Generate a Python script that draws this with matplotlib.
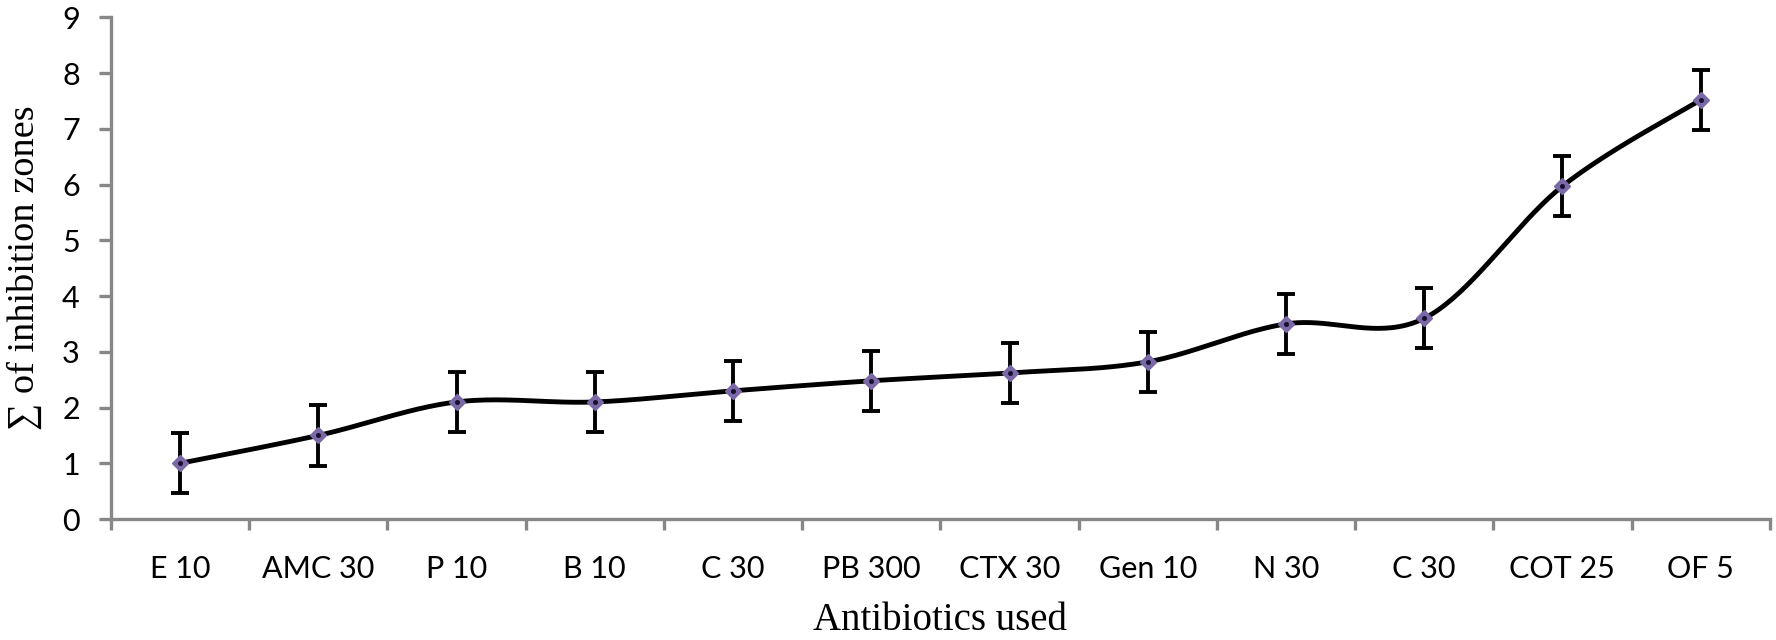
import numpy as np
import matplotlib
matplotlib.use("Agg")
import matplotlib.pyplot as plt
from matplotlib.ticker import FixedLocator

categories = ["E 10", "AMC 30", "P 10", "B 10", "C 30", "PB 300", "CTX 30",
              "Gen 10", "N 30", "C 30", "COT 25", "OF 5"]
values = [1.0, 1.5, 2.1, 2.1, 2.3, 2.48, 2.62, 2.82, 3.5, 3.6, 5.97, 7.52]
errors = [0.54, 0.54, 0.54, 0.54, 0.54, 0.54, 0.54, 0.54, 0.54, 0.54, 0.54, 0.54]
y_ticks = [0, 1, 2, 3, 4, 5, 6, 7, 8, 9]


def smooth_curve(xs, ys, n=40):
    # Catmull-Rom style Bezier smoothing (like spreadsheet "smoothed line")
    pts = np.column_stack([xs, ys]).astype(float)
    ext = np.vstack([pts[0], pts, pts[-1]])
    out = []
    t = np.linspace(0, 1, n)[:, None]
    for i in range(len(pts) - 1):
        p0, p1, p2, p3 = ext[i], ext[i + 1], ext[i + 2], ext[i + 3]
        c1 = p1 + (p2 - p0) / 6.0
        c2 = p2 - (p3 - p1) / 6.0
        seg = ((1 - t) ** 3) * p1 + 3 * ((1 - t) ** 2) * t * c1 + 3 * (1 - t) * t ** 2 * c2 + t ** 3 * p2
        out.append(seg if i == 0 else seg[1:])
    seg = np.vstack(out)
    return seg[:, 0], seg[:, 1]


fig = plt.figure(figsize=(17.76, 6.4), dpi=100)
ax = fig.add_axes([0.0625, 0.189, 0.934, 0.784])

x = np.arange(len(categories))
sx, sy = smooth_curve(x, values)
ax.plot(sx, sy, color="black", lw=3.5, solid_capstyle="round", zorder=2)
ax.errorbar(x, values, yerr=errors, fmt="none", ecolor="black", elinewidth=2.8,
            capsize=6.5, capthick=2.8, zorder=3)
ax.plot(x, values, linestyle="none", marker="D", markersize=8.5,
        markerfacecolor="#7b68a6", markeredgecolor="#7b68a6", zorder=4)
ax.plot(x, values, linestyle="none", marker="o", markersize=2.6,
        markerfacecolor="#1a1030", markeredgecolor="#1a1030", zorder=5)

ax.set_xlim(-0.5, len(categories) - 0.5)
ax.set_ylim(0, 9)

grey = "#878787"
for s in ["top", "right"]:
    ax.spines[s].set_visible(False)
for s in ["left", "bottom"]:
    ax.spines[s].set_color(grey)
    ax.spines[s].set_linewidth(2.4)

ax.set_yticks(y_ticks)
ax.set_yticklabels([str(v) for v in y_ticks])
ax.set_xticks(x)
ax.set_xticklabels(categories)
ax.xaxis.set_minor_locator(FixedLocator(np.arange(-0.5, len(categories), 1.0)))

tick_font = "Lato"
ax.tick_params(axis="y", which="major", length=8.5, width=2.4, color=grey,
               direction="out", pad=14, labelsize=22)
ax.tick_params(axis="x", which="minor", length=8, width=2.4, color=grey,
               direction="out")
ax.tick_params(axis="x", which="major", length=0, pad=26, labelsize=22)
for lab in ax.get_yticklabels() + ax.get_xticklabels():
    lab.set_fontfamily(tick_font)

serif = ["Liberation Serif", "DejaVu Serif"]
fig.text(0.0135, 0.581, "\u2211 of inhibition zones", rotation=90,
         ha="center", va="center", fontsize=27.5, family=serif)
fig.text(0.5295, 0.001, "Antibiotics used", ha="center", va="bottom",
         fontsize=28, family=serif)

fig.savefig("out.png", dpi=100)
